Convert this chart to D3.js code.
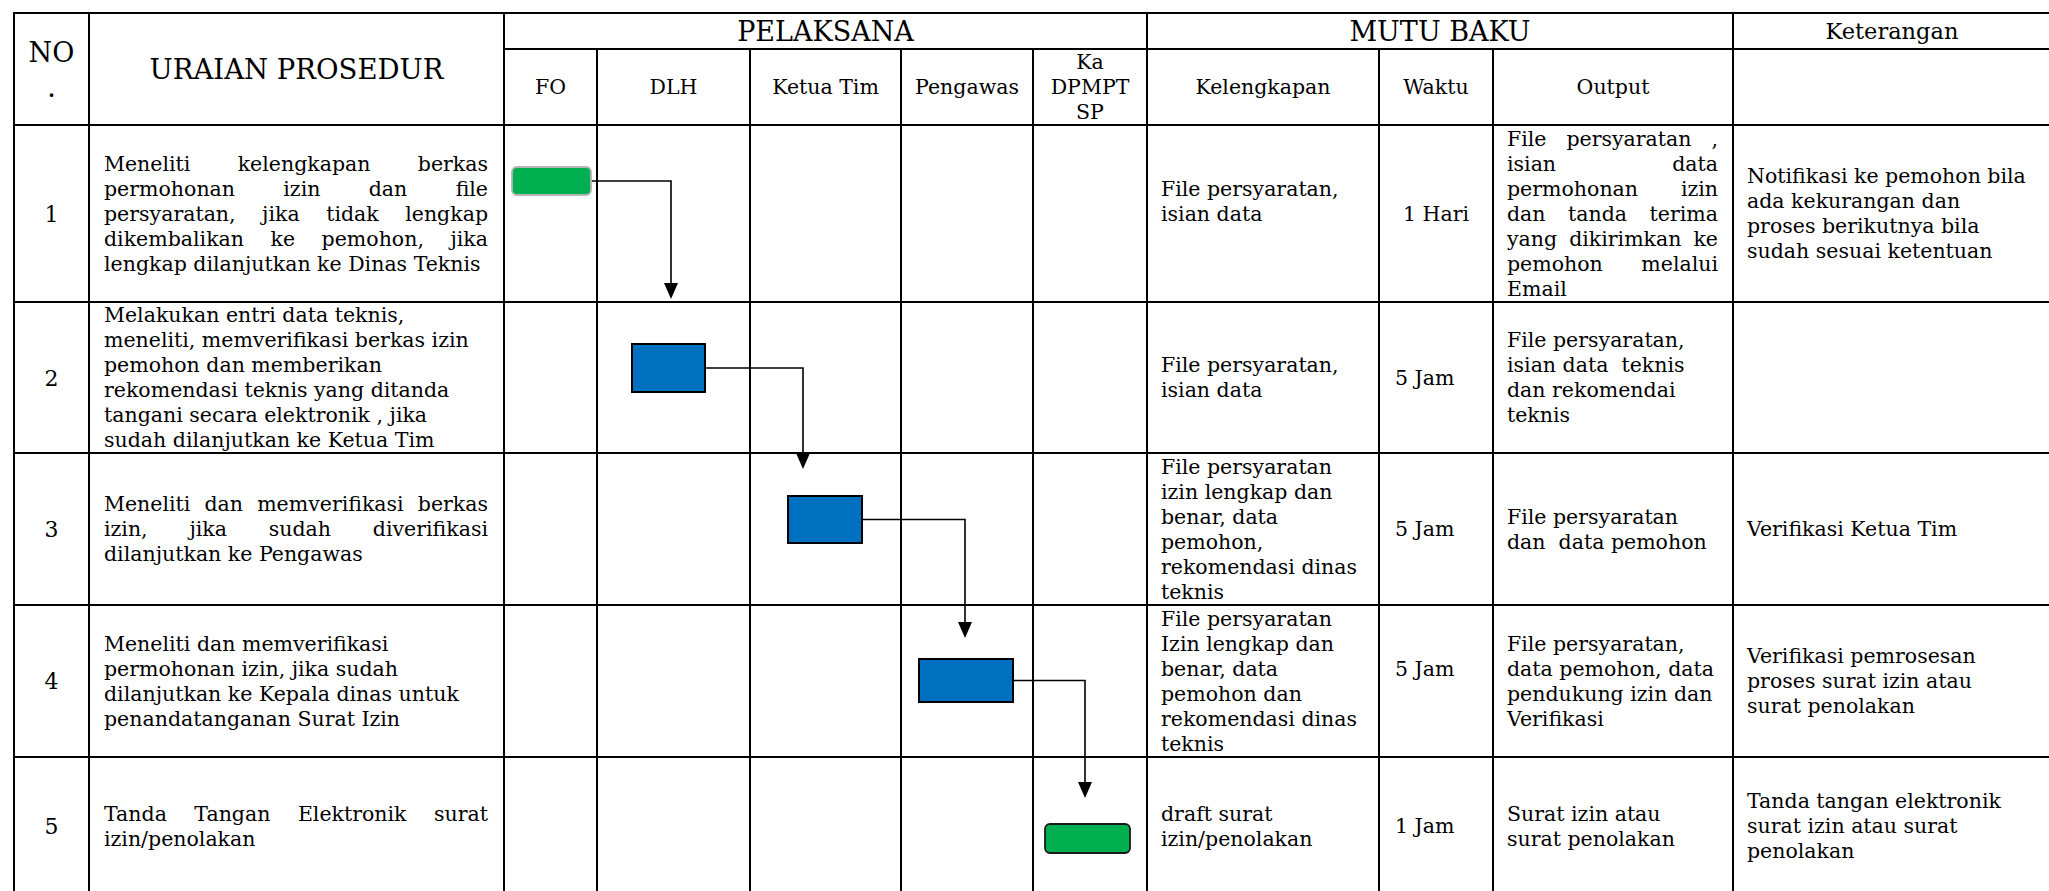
<!DOCTYPE html>
<html><head><meta charset="utf-8">
<script src="https://cdn.jsdelivr.net/npm/d3@7"></script>
<style>body{margin:0;background:#fff} svg{display:block}</style>
</head><body>
<svg id="c" width="2049" height="891"></svg>
<script>
// ---------- DATA ----------
const stepNumbers = ["1","2","3","4","5"];
const pelaksana = ["FO","DLH","Ketua Tim","Pengawas","Ka DPMPT SP"];
const pelaksanaLabels = [["FO"],["DLH"],["Ketua Tim"],["Pengawas"],["Ka","DPMPT","SP"]];
const mutuBaku = ["Kelengkapan","Waktu","Output"];
const groupHeaders = ["PELAKSANA","MUTU BAKU","Keterangan"];
const noHeader = ["NO","."];
const uraianHeader = "URAIAN PROSEDUR";
const uraian = [
  ["Meneliti kelengkapan berkas","permohonan izin dan file","persyaratan, jika tidak lengkap","dikembalikan ke pemohon, jika","lengkap dilanjutkan ke Dinas Teknis"],
  ["Melakukan entri data teknis,","meneliti, memverifikasi berkas izin","pemohon dan memberikan","rekomendasi teknis yang ditanda","tangani secara elektronik , jika","sudah dilanjutkan ke Ketua Tim"],
  ["Meneliti dan memverifikasi berkas","izin, jika sudah diverifikasi","dilanjutkan ke Pengawas"],
  ["Meneliti dan memverifikasi","permohonan izin, jika sudah","dilanjutkan ke Kepala dinas untuk","penandatanganan Surat Izin"],
  ["Tanda Tangan Elektronik surat","izin/penolakan"]
];
const uraianAlign = ["justify","left","justify","left","justify"];
const kelengkapan = [
  ["File persyaratan,","isian data",""],
  ["File persyaratan,","isian data"],
  ["File persyaratan","izin lengkap dan","benar, data","pemohon,","rekomendasi dinas","teknis"],
  ["File persyaratan","Izin lengkap dan","benar, data","pemohon dan","rekomendasi dinas","teknis"],
  ["draft surat","izin/penolakan"]
];
const waktu = [["1 Hari"],["5 Jam"],["5 Jam"],["5 Jam",""],["1 Jam"]];
const waktuAlign = ["center","left","left","left","left"];
const output = [
  ["File persyaratan ,","isian data","permohonan izin","dan tanda terima","yang dikirimkan ke","pemohon melalui","Email"],
  ["File persyaratan,","isian data  teknis","dan rekomendai","teknis"],
  ["File persyaratan","dan  data pemohon"],
  ["File persyaratan,","data pemohon, data","pendukung izin dan","Verifikasi"],
  ["Surat izin atau","surat penolakan"]
];
const outputAlign = ["justify","left","left","left","left"];
const keterangan = [
  ["Notifikasi ke pemohon bila","ada kekurangan dan","proses berikutnya bila","sudah sesuai ketentuan"],
  [],
  ["Verifikasi Ketua Tim"],
  ["Verifikasi pemrosesan","proses surat izin atau","surat penolakan"],
  ["Tanda tangan elektronik","surat izin atau surat","penolakan"]
];
const stepActor = ["FO","DLH","Ketua Tim","Pengawas","Ka DPMPT SP"];
const stepShape = ["terminator","process","process","process","terminator"];

// ---------- LAYOUT / STYLE ----------
const colKeys = ["no","uraian"].concat(pelaksana, mutuBaku, ["Keterangan"]);
const colEdges = [14, 89, 504, 597, 750, 901, 1033, 1147, 1379, 1493, 1733, 2051];
const headTop = 13, headMid = 49, headBot = 125;
const rowEdges = [125, 302, 453, 605, 757, 895];
const FONT = "'DejaVu Serif', serif";
const bodySize = 20.5, lineH = 25;
const pad = 15;
// shape geometry (size, offset of centre from cell centre)
const shapeGeom = [
  {w:79, h:28, dx:1,    dy:-32.5},
  {w:73, h:48, dx:-5,   dy:-9.5},
  {w:74, h:47, dx:-0.5, dy:-9.5},
  {w:94, h:43, dx:-1,   dy:-0.5},
  {w:85, h:29, dx:-2.5, dy:12.5}
];
// connector: drop x offset from target column centre, arrow tip offset from target row top
const connGeom = [
  {dx:-2.5, tip:-3},
  {dx:-22.5, tip:16},
  {dx:-2, tip:33},
  {dx:-5, tip:41}
];
const COLORS = {line:"#000", green:"#00B050", blue:"#0070C0"};

// ---------- SCALES ----------
const xL = d3.scaleOrdinal(colKeys, colEdges.slice(0,-1));
const xR = d3.scaleOrdinal(colKeys, colEdges.slice(1));
const xC = k => (xL(k)+xR(k))/2;
const yT = d3.scaleOrdinal(stepNumbers, rowEdges.slice(0,-1));
const yB = d3.scaleOrdinal(stepNumbers, rowEdges.slice(1));
const yC = k => (yT(k)+yB(k))/2;

const svg = d3.select("#c");
svg.append("rect").attr("width",2049).attr("height",891).attr("fill","#fff");

// ---------- TEXT HELPERS ----------
const measure = svg.append("text").attr("font-family",FONT).attr("font-size",bodySize).attr("visibility","hidden");
function textW(s, size){ measure.attr("font-size",size).text(s); return measure.node().getComputedTextLength(); }

function drawBlock(g, lines, x0, x1, align, yCenter, size, lh){
  const n = lines.length;
  const top = yCenter - (n-1)*lh/2;
  lines.forEach((ln,i)=>{
    if(!ln) return;
    const yb = top + i*lh + size*0.35;
    const words = ln.trim().split(/\s+/);
    if(align==="justify" && i<n-1 && words.length>1){
      const ws = words.map(w=>textW(w,size));
      const gap = ((x1-x0) - d3.sum(ws))/(words.length-1);
      let x = x0;
      words.forEach((w,j)=>{
        g.append("text").attr("x",x).attr("y",yb).attr("font-family",FONT).attr("font-size",size).attr("fill","#000").text(w);
        x += ws[j]+gap;
      });
    } else {
      const t = g.append("text").attr("y",yb).attr("font-family",FONT).attr("font-size",size).attr("fill","#000")
        .style("white-space","pre").text(ln);
      if(align==="center") t.attr("x",(x0+x1)/2).attr("text-anchor","middle");
      else t.attr("x",x0);
    }
  });
}

// ---------- GRID ----------
const grid = svg.append("g").attr("stroke",COLORS.line).attr("stroke-width",2).attr("stroke-linecap","square");
const right = colEdges[colEdges.length-1], left = colEdges[0], bottom = rowEdges[rowEdges.length-1];
const hLines = [{y:headTop,x0:left,x1:right},{y:headMid,x0:xL(pelaksana[0]),x1:right},{y:headBot,x0:left,x1:right}]
  .concat(stepNumbers.map(s=>({y:yB(s),x0:left,x1:right})));
grid.selectAll("line.h").data(hLines).join("line").attr("class","h")
  .attr("x1",d=>d.x0).attr("x2",d=>d.x1).attr("y1",d=>d.y).attr("y2",d=>d.y);
const fullV = [left, xR("no"), xR("uraian"), xR(pelaksana[4]), xR(mutuBaku[2]), right];
const partV = pelaksana.slice(0,-1).map(xR).concat(mutuBaku.slice(0,-1).map(xR));
grid.selectAll("line.vf").data(fullV).join("line").attr("class","vf")
  .attr("x1",d=>d).attr("x2",d=>d).attr("y1",headTop).attr("y2",bottom);
grid.selectAll("line.vp").data(partV).join("line").attr("class","vp")
  .attr("x1",d=>d).attr("x2",d=>d).attr("y1",headMid).attr("y2",bottom);

// ---------- HEADER TEXT ----------
const hd = svg.append("g");
hd.append("text").attr("x",xC("no")).attr("y",62).attr("text-anchor","middle").attr("font-family",FONT).attr("font-size",27).text(noHeader[0]);
hd.append("text").attr("x",xC("no")).attr("y",97).attr("text-anchor","middle").attr("font-family",FONT).attr("font-size",27).text(noHeader[1]);
hd.append("text").attr("x",xC("uraian")).attr("y",79).attr("text-anchor","middle").attr("font-family",FONT).attr("font-size",27.5).text(uraianHeader);
const groupX = [[xL(pelaksana[0]),xR(pelaksana[4])],[xL(mutuBaku[0]),xR(mutuBaku[2])],[xL("Keterangan"),xR("Keterangan")]];
groupHeaders.forEach((h,i)=>{
  const sz = i<2?27:22.5;
  hd.append("text").attr("x",(groupX[i][0]+groupX[i][1])/2).attr("y",i<2?41:39).attr("text-anchor","middle")
    .attr("font-family",FONT).attr("font-size",sz).text(h);
});
pelaksana.forEach((p,i)=>{
  drawBlock(hd, pelaksanaLabels[i], xL(p), xR(p), "center", (headMid+headBot)/2, bodySize, lineH);
});
mutuBaku.forEach(m=>{
  drawBlock(hd, [m], xL(m), xR(m), "center", (headMid+headBot)/2, bodySize, lineH);
});

// ---------- BODY TEXT ----------
const body = svg.append("g");
stepNumbers.forEach((s,i)=>{
  const cy = yC(s);
  body.append("text").attr("x",xC("no")).attr("y",cy+8).attr("text-anchor","middle").attr("font-family",FONT).attr("font-size",22).text(s);
  drawBlock(body, uraian[i], xL("uraian")+pad, xR("uraian")-16, uraianAlign[i], cy, bodySize, lineH);
  drawBlock(body, kelengkapan[i], xL("Kelengkapan")+14, xR("Kelengkapan")-10, "left", cy, bodySize, lineH);
  if(waktuAlign[i]==="center") drawBlock(body, waktu[i], xL("Waktu"), xR("Waktu"), "center", cy, bodySize, lineH);
  else drawBlock(body, waktu[i], xL("Waktu")+16, xR("Waktu"), "left", cy, bodySize, lineH);
  drawBlock(body, output[i], xL("Output")+14, xR("Output")-15, outputAlign[i], cy, bodySize, lineH);
  drawBlock(body, keterangan[i], xL("Keterangan")+14, xR("Keterangan")-10, "left", cy, bodySize, lineH);
});

// ---------- FLOW SHAPES ----------
const shapes = stepNumbers.map((s,i)=>{
  const g = shapeGeom[i];
  const cx = xC(stepActor[i]) + g.dx, cy = yC(s) + g.dy;
  return {step:s, actor:stepActor[i], type:stepShape[i], x:cx-g.w/2, y:cy-g.h/2, w:g.w, h:g.h, cx, cy, i};
});
const conns = svg.append("g").attr("fill","none").attr("stroke","#000").attr("stroke-width",1.6);
const heads = svg.append("g").attr("fill","#000");
shapes.slice(0,-1).forEach((a,i)=>{
  const b = shapes[i+1];
  const dropX = xC(b.actor) + connGeom[i].dx;
  const tipY = yT(b.step) + connGeom[i].tip;
  conns.append("path").attr("d", d3.line()([[a.x+a.w, a.cy],[dropX, a.cy],[dropX, tipY-14]]));
  heads.append("path").attr("d", `M${dropX-7},${tipY-16}L${dropX+7},${tipY-16}L${dropX},${tipY}Z`);
});
svg.append("g").selectAll("rect").data(shapes).join("rect")
  .attr("x",d=>d.x).attr("y",d=>d.y).attr("width",d=>d.w).attr("height",d=>d.h)
  .attr("rx",d=>d.type==="terminator"?5:0)
  .attr("fill",d=>d.type==="terminator"?COLORS.green:COLORS.blue)
  .attr("stroke",d=>d.type==="terminator"?(d.i===0?"#b5b5b5":"#1a1a1a"):"#000")
  .attr("stroke-width",d=>d.type==="terminator"?1.8:2);
</script>
</body></html>
